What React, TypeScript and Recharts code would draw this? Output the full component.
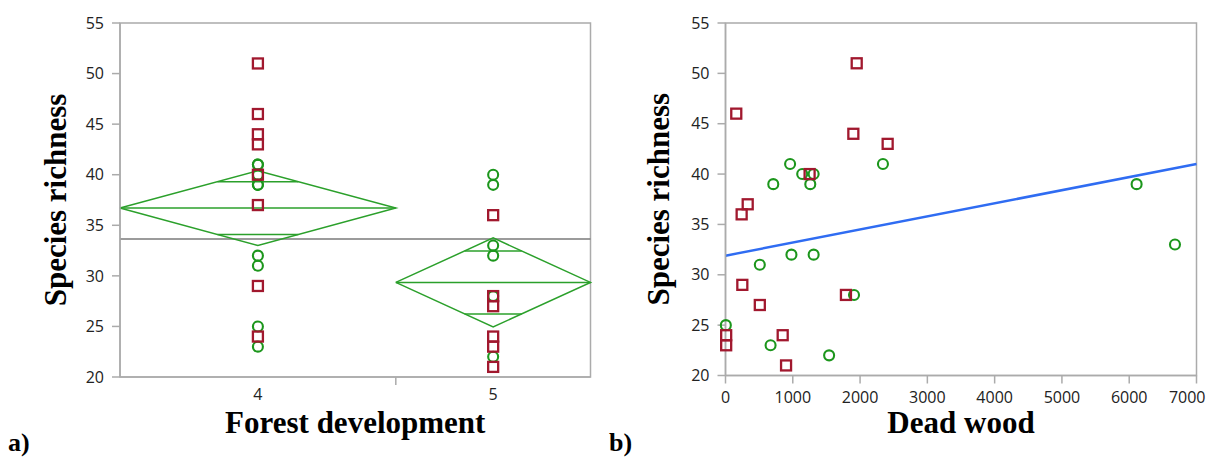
import React from 'react';
import {
  ComposedChart, XAxis, YAxis, Line, Scatter, ReferenceLine, ReferenceArea, Label,
} from 'recharts';

// ---------- Data (panel a: Forest development) ----------
const groupLabels = ['4', '5'];
const group4Squares = [51, 46, 44, 43, 40, 37, 29, 24];
const group4Circles = [41, 41, 40, 39, 39, 32, 31, 25, 23];
const group5Squares = [36, 28, 27, 24, 23, 21];
const group5Circles = [40, 39, 33, 32, 28, 22];
const groupMeans = [36.7, 29.35];
const groupCIHalf = [3.7, 4.4];
const grandMean = 33.65;

// ---------- Data (panel b: Dead wood) ----------
const squareWood = [1950, 160, 1900, 2410, 1250, 330, 240, 250, 510, 1790, 10, 10, 850, 900];
const squareRichness = [51, 46, 44, 43, 40, 37, 36, 29, 27, 28, 24, 23, 24, 21];
const circleWood = [960, 2340, 1140, 1310, 710, 1260, 6110, 6680, 980, 1310, 510, 1910, 5, 670, 1540];
const circleRichness = [41, 41, 40, 40, 39, 39, 39, 33, 32, 32, 31, 28, 25, 23, 22];
const fitWood = [0, 7000];
const fitRichness = [31.9, 41.0];

const yTicks = [20, 25, 30, 35, 40, 45, 50, 55];
const woodTicks = [0, 1000, 2000, 3000, 4000, 5000, 6000, 7000];

// ---------- Styles ----------
const RED = '#a1182e';
const GREEN = '#1c961c';
const DIAMOND = '#2ba02b';
const BLUE = '#2f6cf2';
const AXIS = '#ababab';
const TICKFONT = '"Open Sans", "Noto Sans", sans-serif';
const TITLEFONT = '"Liberation Serif", "Times New Roman", serif';
const TICKSIZE = 16;

// ---------- Derived structures ----------
const n4 = group4Squares.length + group4Circles.length;
const n5 = group5Squares.length + group5Circles.length;
const total = n4 + n5;
const starts = [0, n4];
const ends = [n4, total];
const centers = [n4 / 2, n4 + n5 / 2];

const g4sq = group4Squares.map((y) => ({ x: centers[0], y }));
const g4ci = group4Circles.map((y) => ({ x: centers[0], y }));
const g5sq = group5Squares.map((y) => ({ x: centers[1], y }));
const g5ci = group5Circles.map((y) => ({ x: centers[1], y }));

const diamonds = groupMeans.map((m, i) => {
  const h = groupCIHalf[i];
  const c = centers[i];
  const s = starts[i];
  const e = ends[i];
  const half = (e - s) / 2;
  const k = 1 - 1 / Math.SQRT2;
  const o = h / Math.SQRT2;
  return {
    outline: [
      { x: s, y: m }, { x: c, y: m + h }, { x: e, y: m }, { x: c, y: m - h }, { x: s, y: m },
    ],
    mean: [{ x: s, y: m }, { x: e, y: m }],
    upper: [{ x: c - half * k, y: m + o }, { x: c + half * k, y: m + o }],
    lower: [{ x: c - half * k, y: m - o }, { x: c + half * k, y: m - o }],
  };
});

const woodSquares = squareWood.map((x, i) => ({ x, y: squareRichness[i] }));
const woodCircles = circleWood.map((x, i) => ({ x, y: circleRichness[i] }));
const fitLine = fitWood.map((x, i) => ({ x, y: fitRichness[i] }));

// ---------- Shapes ----------
const SquareShape = (p: any) => (
  <rect x={p.cx - 5} y={p.cy - 5} width={10} height={10} fill="none" stroke={RED} strokeWidth={2.3} />
);
const CircleShape = (p: any) => (
  <circle cx={p.cx} cy={p.cy} r={5} fill="none" stroke={GREEN} strokeWidth={2.1} />
);

const LeftXTick = (p: any) => {
  const { x, y, payload } = p;
  const v = payload.value;
  if (Math.abs(v - n4) < 1e-6) {
    return <line x1={x} x2={x} y1={y} y2={y + 8} stroke={AXIS} strokeWidth={1.5} />;
  }
  const idx = centers.findIndex((c) => Math.abs(c - v) < 1e-6);
  return (
    <text x={x} y={y + 23} textAnchor="middle" fontFamily={TICKFONT} fontSize={TICKSIZE} fill="#222">
      {groupLabels[idx]}
    </text>
  );
};

const WoodTick = (p: any) => {
  const { x, y, payload } = p;
  const last = payload.value === woodTicks[woodTicks.length - 1];
  return (
    <text x={last ? x + 9 : x} y={y} dy="0.71em" textAnchor={last ? 'end' : 'middle'}
      fontFamily={TICKFONT} fontSize={TICKSIZE} fill="#222">
      {payload.value}
    </text>
  );
};

const yTickStyle = { fontFamily: TICKFONT, fontSize: TICKSIZE, fill: '#222' };

const YTitle = (x: number) => (props: any) => {
  const vb = props.viewBox;
  const cy = vb.y + vb.height / 2;
  return (
    <text x={x} y={cy} transform={`rotate(-90, ${x}, ${cy})`} textAnchor="middle"
      fontFamily={TITLEFONT} fontWeight="bold" fontSize={31} fill="#000">
      Species richness
    </text>
  );
};

const XTitle = (text: string) => (props: any) => {
  const vb = props.viewBox;
  return (
    <text x={vb.x + vb.width / 2} y={433} textAnchor="middle"
      fontFamily={TITLEFONT} fontWeight="bold" fontSize={31} fill="#000">
      {text}
    </text>
  );
};

const PanelTag = (text: string, x: number) => () => (
  <text x={x} y={451} fontFamily={TITLEFONT} fontWeight="bold" fontSize={26} fill="#000">
    {text}
  </text>
);

export default function App() {
  return (
    <div style={{ position: 'fixed', left: 0, top: 0, width: 1206, height: 461, background: '#fff' }}>
      <div style={{ position: 'absolute', left: 0, top: 0 }}>
        <ComposedChart width={600} height={461} margin={{ top: 23, right: 9.5, bottom: 0, left: 0 }}>
          <XAxis
            dataKey="x" type="number" domain={[0, total]} ticks={[centers[0], n4, centers[1]]}
            interval={0} tickLine={false} tickSize={0} tickMargin={0}
            tick={<LeftXTick />} height={84}
            axisLine={{ stroke: AXIS, strokeWidth: 1.5 }}
          >
            <Label content={XTitle('Forest development')} />
            <Label content={PanelTag('a)', 8)} />
          </XAxis>
          <YAxis
            dataKey="y" type="number" domain={[20, 55]} ticks={yTicks} interval={0}
            width={120} tickSize={8} tickMargin={8} tick={yTickStyle}
            tickLine={{ stroke: AXIS, strokeWidth: 1.5 }}
            axisLine={{ stroke: AXIS, strokeWidth: 1.5 }}
          >
            <Label content={YTitle(66)} />
          </YAxis>
          <ReferenceArea x1={0} x2={total} y1={20} y2={55} fill="none" stroke={AXIS} strokeWidth={1.5} />
          <Scatter data={g4ci} dataKey="y" shape={CircleShape} isAnimationActive={false} />
          <Scatter data={g4sq} dataKey="y" shape={SquareShape} isAnimationActive={false} />
          <Scatter data={g5ci} dataKey="y" shape={CircleShape} isAnimationActive={false} />
          <Scatter data={g5sq} dataKey="y" shape={SquareShape} isAnimationActive={false} />
          <ReferenceLine y={grandMean} stroke="#7a7a7a" strokeWidth={1.5} />
          {diamonds.map((d, i) => (
            <React.Fragment key={i}>
              <Line data={d.outline} dataKey="y" stroke={DIAMOND} strokeWidth={1.5} dot={false} isAnimationActive={false} />
              <Line data={d.mean} dataKey="y" stroke={DIAMOND} strokeWidth={1.5} dot={false} isAnimationActive={false} />
              <Line data={d.upper} dataKey="y" stroke={DIAMOND} strokeWidth={1.5} dot={false} isAnimationActive={false} />
              <Line data={d.lower} dataKey="y" stroke={DIAMOND} strokeWidth={1.5} dot={false} isAnimationActive={false} />
            </React.Fragment>
          ))}
        </ComposedChart>
      </div>
      <div style={{ position: 'absolute', left: 600, top: 0 }}>
        <ComposedChart width={606} height={461} margin={{ top: 23, right: 9.5, bottom: 0, left: 0 }}>
          <XAxis
            dataKey="x" type="number" domain={[0, 7000]} ticks={woodTicks} interval={0}
            height={85.5} tickSize={8} tickMargin={8} tick={<WoodTick />}
            tickLine={{ stroke: AXIS, strokeWidth: 1.5 }}
            axisLine={{ stroke: AXIS, strokeWidth: 1.5 }}
          >
            <Label content={XTitle('Dead wood')} />
            <Label content={PanelTag('b)', 9)} />
          </XAxis>
          <YAxis
            dataKey="y" type="number" domain={[20, 55]} ticks={yTicks} interval={0}
            width={125.5} tickSize={8} tickMargin={8} tick={yTickStyle}
            tickLine={{ stroke: AXIS, strokeWidth: 1.5 }}
            axisLine={{ stroke: AXIS, strokeWidth: 1.5 }}
          >
            <Label content={YTitle(69)} />
          </YAxis>
          <ReferenceArea x1={0} x2={7000} y1={20} y2={55} fill="none" stroke={AXIS} strokeWidth={1.5} />
          <Scatter data={woodCircles} dataKey="y" shape={CircleShape} isAnimationActive={false} />
          <Scatter data={woodSquares} dataKey="y" shape={SquareShape} isAnimationActive={false} />
          <Line data={fitLine} dataKey="y" stroke={BLUE} strokeWidth={2.5} dot={false} isAnimationActive={false} />
        </ComposedChart>
      </div>
    </div>
  );
}
